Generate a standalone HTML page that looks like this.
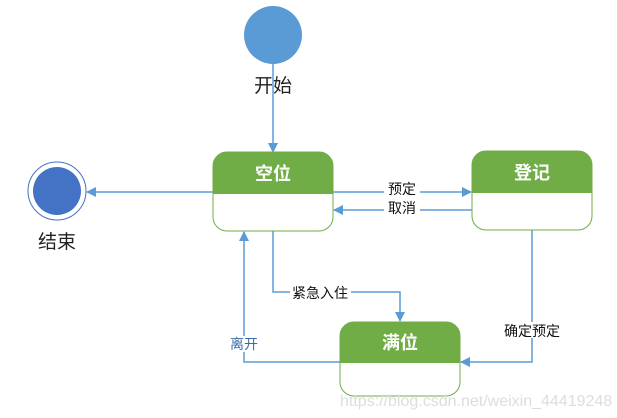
<!DOCTYPE html>
<html><head><meta charset="utf-8"><style>
body{margin:0;background:#fff}
svg{display:block}
text{font-family:"Liberation Sans","Noto Sans CJK SC",sans-serif}
</style></head><body>
<svg width="617" height="418" viewBox="0 0 617 418" xmlns="http://www.w3.org/2000/svg">
<defs><marker id="a" markerWidth="10" markerHeight="10" refX="9" refY="5" orient="auto" markerUnits="userSpaceOnUse"><path d="M0,0 L10,5 L0,10 z" fill="#5b9bd5"/></marker></defs>
<circle cx="273" cy="35" r="29" fill="#5b9bd5"/>
<text x="273" y="92" font-size="19" text-anchor="middle" fill="#222">开始</text>
<circle cx="57" cy="191" r="29" fill="none" stroke="#4472c4" stroke-width="1"/>
<circle cx="57" cy="191" r="24" fill="#4472c4"/>
<text x="57" y="248" font-size="19" text-anchor="middle" fill="#222">结束</text>
<g fill="none" stroke="#5b9bd5" stroke-width="1.5">
<path d="M273,64 V152" marker-end="url(#a)"/>
<path d="M213,192 H87" marker-end="url(#a)"/>
<path d="M333,192 H471" marker-end="url(#a)"/>
<path d="M472,210 H334" marker-end="url(#a)"/>
<path d="M273,231 V292 H400 V321" marker-end="url(#a)"/>
<path d="M340,362 H244 V232" marker-end="url(#a)"/>
<path d="M532,230 V362 H461" marker-end="url(#a)"/>
</g>
<g>
<rect x="213" y="152" width="120" height="79" rx="14" fill="#fff" stroke="#70ad47"/>
<path d="M213,194 V166 A14,14 0 0 1 227,152 H319 A14,14 0 0 1 333,166 V194 Z" fill="#70ad47"/>
<text x="273" y="180" font-size="18" font-weight="bold" text-anchor="middle" fill="#fff">空位</text>
<rect x="472" y="151" width="120" height="79" rx="14" fill="#fff" stroke="#70ad47"/>
<path d="M472,193 V165 A14,14 0 0 1 486,151 H578 A14,14 0 0 1 592,165 V193 Z" fill="#70ad47"/>
<text x="532" y="179" font-size="18" font-weight="bold" text-anchor="middle" fill="#fff">登记</text>
<rect x="340" y="322" width="120" height="74" rx="14" fill="#fff" stroke="#70ad47"/>
<path d="M340,363 V336 A14,14 0 0 1 354,322 H446 A14,14 0 0 1 460,336 V363 Z" fill="#70ad47"/>
<text x="400" y="349" font-size="18" font-weight="bold" text-anchor="middle" fill="#fff">满位</text>
</g>
<rect x="384" y="181" width="36" height="34" fill="#fff"/>
<text x="402" y="194" font-size="14" text-anchor="middle" fill="#111">预定</text>
<text x="402" y="213" font-size="14" text-anchor="middle" fill="#111">取消</text>
<rect x="290" y="284" width="61" height="16" fill="#fff"/>
<text x="320" y="298" font-size="14" text-anchor="middle" fill="#111">紧急入住</text>
<rect x="229" y="336" width="30" height="16" fill="#fff"/>
<text x="244" y="349" font-size="14" text-anchor="middle" fill="#3a6ea5">离开</text>
<rect x="502" y="322" width="60" height="16" fill="#fff"/>
<text x="532" y="336" font-size="14" text-anchor="middle" fill="#111">确定预定</text>
<text x="340" y="406" font-size="16" fill="#ddd">https://blog.csdn.net/weixin_44419248</text>
</svg>
</body></html>
